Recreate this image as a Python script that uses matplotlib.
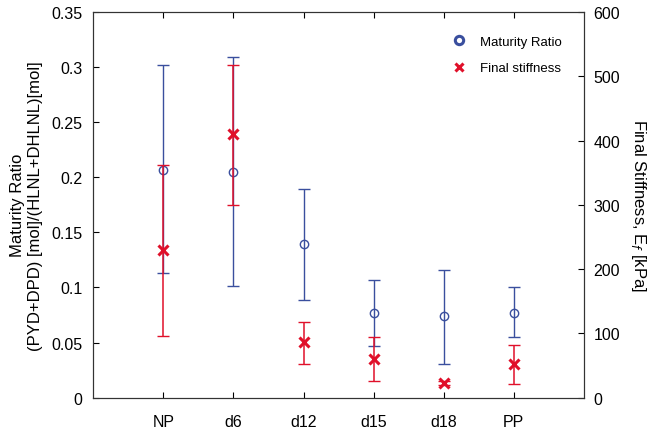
import numpy as np
import matplotlib
matplotlib.use("Agg")
import matplotlib.pyplot as plt

plt.rcParams['font.family'] = ['Liberation Sans', 'DejaVu Sans']

groups = ['NP', 'd6', 'd12', 'd15', 'd18', 'PP']

# maturity ratio (left axis)
ratio = np.array([0.207, 0.205, 0.139, 0.077, 0.074, 0.077])
ratio_hi = np.array([0.302, 0.309, 0.189, 0.107, 0.116, 0.100])
ratio_lo = np.array([0.113, 0.101, 0.089, 0.047, 0.031, 0.055])

# final stiffness in kPa (right axis)
stiff = np.array([230, 410, 86, 60, 23, 52])
stiff_hi = np.array([362, 518, 118, 94, 26, 82])
stiff_lo = np.array([96, 300, 53, 26, 20, 21])

blue = '#3a4f9e'
red = '#e0102a'

x = np.arange(1, len(groups) + 1)

fig, ax = plt.subplots(figsize=(6.62, 4.31), dpi=100)
fig.subplots_adjust(left=0.141, right=0.882, top=0.970, bottom=0.075)

ax.errorbar(x, ratio, yerr=[ratio - ratio_lo, ratio_hi - ratio], fmt='none',
            ecolor=blue, elinewidth=1.0, capsize=4, capthick=1.0)
ax.plot(x, ratio, 'o', color=blue, mfc='none', ms=6, mew=1.0)
ax.set_xlim(0, 7)
ax.set_ylim(0, 0.35)
ax.set_yticks(np.arange(0, 0.351, 0.05))
ax.set_yticklabels(['0', '0.05', '0.1', '0.15', '0.2', '0.25', '0.3', '0.35'])
ax.set_xticks(x)
ax.set_xticklabels(groups)
ax.tick_params(direction='in', top=True, labelsize=11.5, length=4, pad=8)
ax.tick_params(axis='x', pad=12)
ax.set_ylabel('Maturity Ratio\n(PYD+DPD) [mol]/(HLNL+DHLNL)[mol]', fontsize=12,
              labelpad=6)

ax2 = ax.twinx()
ax2.errorbar(x, stiff, yerr=[stiff - stiff_lo, stiff_hi - stiff], fmt='none',
             ecolor=red, elinewidth=1.1, capsize=4, capthick=1.0)
ax2.plot(x, stiff, 'x', color=red, ms=7, mew=2.2)
ax2.set_ylim(0, 600)
ax2.set_yticks(np.arange(0, 601, 100))
ax2.tick_params(direction='in', labelsize=11.5, length=4, pad=7)
ax2.set_ylabel('Final Stiffness, E$_f$ [kPa]', fontsize=12, rotation=270,
               labelpad=20)

for a in (ax, ax2):
    for s in a.spines.values():
        s.set_linewidth(0.8)
        s.set_color('#333333')

# legend
h1 = plt.Line2D([], [], ls='none', marker='o', color=blue, mfc='none',
                ms=6, mew=2.2)
h2 = plt.Line2D([], [], ls='none', marker='x', color=red, ms=6, mew=2.2)
ax2.legend([h1, h2], ['Maturity Ratio', 'Final stiffness'], loc='upper right',
           frameon=False, fontsize=9.5, handletextpad=0.6, labelspacing=1.1,
           bbox_to_anchor=(0.98, 0.97))

fig.savefig('out.png', dpi=100)
